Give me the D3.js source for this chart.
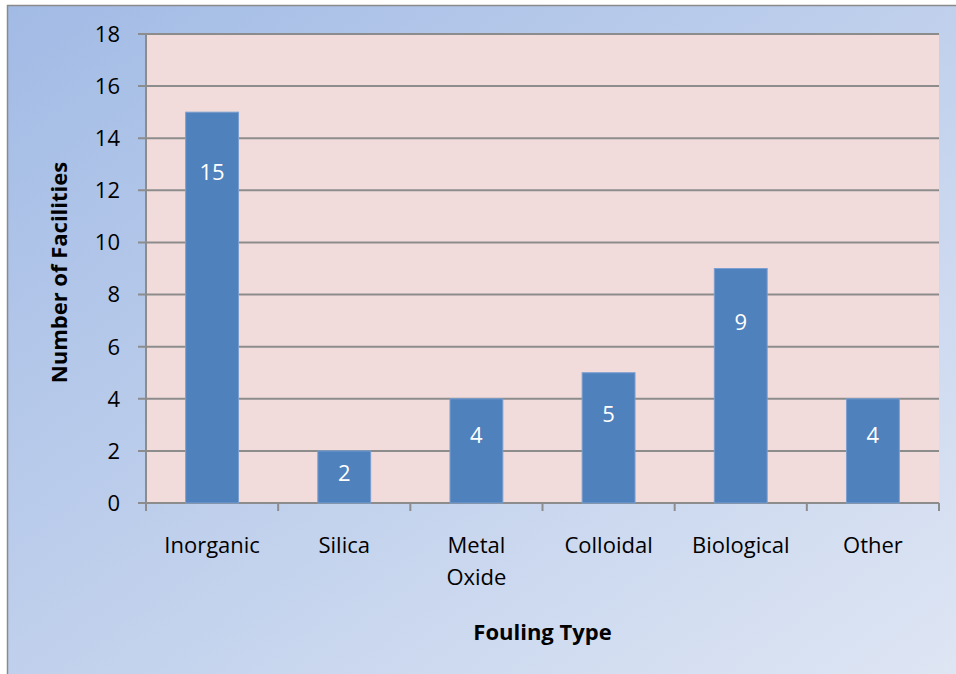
<!DOCTYPE html>
<html>
<head>
<meta charset="utf-8">
<script src="https://cdn.jsdelivr.net/npm/d3@7/dist/d3.min.js"></script>
<style>
  body { margin: 0; padding: 0; overflow: hidden; }
  text { font-family: "Open Sans", "Noto Sans", sans-serif; }
</style>
</head>
<body>
<div id="chart"></div>
<script>
// chart data
const categories = ["Inorganic", "Silica", "Metal Oxide", "Colloidal", "Biological", "Other"];
const facilities = [15, 2, 4, 5, 9, 4];
const yTicks = [0, 2, 4, 6, 8, 10, 12, 14, 16, 18];

const W = 956, H = 674;
const margin = { left: 146, right: 17, top: 34, bottom: 171 };
const w = W - margin.left - margin.right;
const h = H - margin.top - margin.bottom;

const svg = d3.select("#chart").append("svg")
  .attr("width", W).attr("height", H);

// background gradient
const defs = svg.append("defs");
const grad = defs.append("linearGradient").attr("id", "bg")
  .attr("x1", "0%").attr("y1", "0%").attr("x2", "100%").attr("y2", "100%");
grad.append("stop").attr("offset", "0%").attr("stop-color", "#a2bbe5");
grad.append("stop").attr("offset", "100%").attr("stop-color", "#e0e7f4");

svg.append("rect").attr("width", W).attr("height", H).attr("fill", "#ffffff");
svg.append("rect")
  .attr("x", 7.5).attr("y", 5.5)
  .attr("width", W + 20).attr("height", H + 20)
  .attr("fill", "url(#bg)")
  .attr("stroke", "#8a8a8a").attr("stroke-width", 1.5);

const g = svg.append("g").attr("transform", `translate(${margin.left},${margin.top})`);

const x = d3.scaleBand().domain(categories).range([0, w]).paddingInner(0.6).paddingOuter(0.3);
const xBand = d3.scaleBand().domain(categories).range([0, w]);
const y = d3.scaleLinear().domain([0, 18]).range([h, 0]);

// plot area
g.append("rect").attr("width", w).attr("height", h).attr("fill", "#f2dcdb");

// gridlines
g.selectAll(".grid").data(yTicks).enter().append("line")
  .attr("x1", -8).attr("x2", w)
  .attr("y1", d => y(d)).attr("y2", d => y(d))
  .attr("stroke", "#8c8c8c").attr("stroke-width", 2);

// y axis line
g.append("line").attr("x1", 0).attr("x2", 0).attr("y1", 0).attr("y2", h + 8)
  .attr("stroke", "#8c8c8c").attr("stroke-width", 2);

// x tick marks at category boundaries
const bounds = categories.map(c => xBand(c)).concat([w]);
g.selectAll(".xtick").data(bounds).enter().append("line")
  .attr("x1", d => d).attr("x2", d => d)
  .attr("y1", h).attr("y2", h + 8)
  .attr("stroke", "#8c8c8c").attr("stroke-width", 2);

// y tick labels
g.selectAll(".ylab").data(yTicks).enter().append("text")
  .attr("x", -26).attr("y", d => y(d))
  .attr("dy", "0.36em")
  .attr("text-anchor", "end")
  .style("font-size", "22px").attr("fill", "#000")
  .text(d => d);

// bars
g.selectAll(".bar").data(facilities).enter().append("rect")
  .attr("x", (d, i) => x(categories[i]))
  .attr("y", d => y(d))
  .attr("width", x.bandwidth())
  .attr("height", d => h - y(d))
  .attr("fill", "#4f81bd")
  .attr("stroke", "#7b9fd0").attr("stroke-width", 1);

// value labels inside bars
g.selectAll(".val").data(facilities).enter().append("text")
  .attr("x", (d, i) => x(categories[i]) + x.bandwidth() / 2)
  .attr("y", d => {
    const bh = h - y(d);
    return y(d) + 62 * (1 - Math.exp(-bh / 120));
  })
  .attr("dy", "0.36em")
  .attr("text-anchor", "middle")
  .attr("fill", "#ffffff")
  .style("font-size", "22px")
  .text(d => d);

// category labels (wrap on space for Metal Oxide)
g.selectAll(".xlab").data(categories).enter().append("text")
  .attr("text-anchor", "middle")
  .attr("fill", "#000")
  .style("font-size", "22px")
  .each(function (d) {
    const t = d3.select(this);
    const cx = xBand(d) + xBand.bandwidth() / 2;
    const words = d === "Metal Oxide" ? ["Metal", "Oxide"] : [d];
    words.forEach((wd, k) => {
      t.append("tspan").attr("x", cx).attr("y", h + 50 + k * 32).text(wd);
    });
  });

// axis titles
g.append("text")
  .attr("x", w / 2).attr("y", h + 137)
  .attr("text-anchor", "middle")
  .style("font-size", "22px").style("font-weight", "bold")
  .text("Fouling Type");

g.append("text")
  .attr("transform", `translate(${-79},${h / 2 + 4}) rotate(-90)`)
  .attr("text-anchor", "middle")
  .style("font-size", "22px").style("font-weight", "bold")
  .text("Number of Facilities");
</script>
</body>
</html>
